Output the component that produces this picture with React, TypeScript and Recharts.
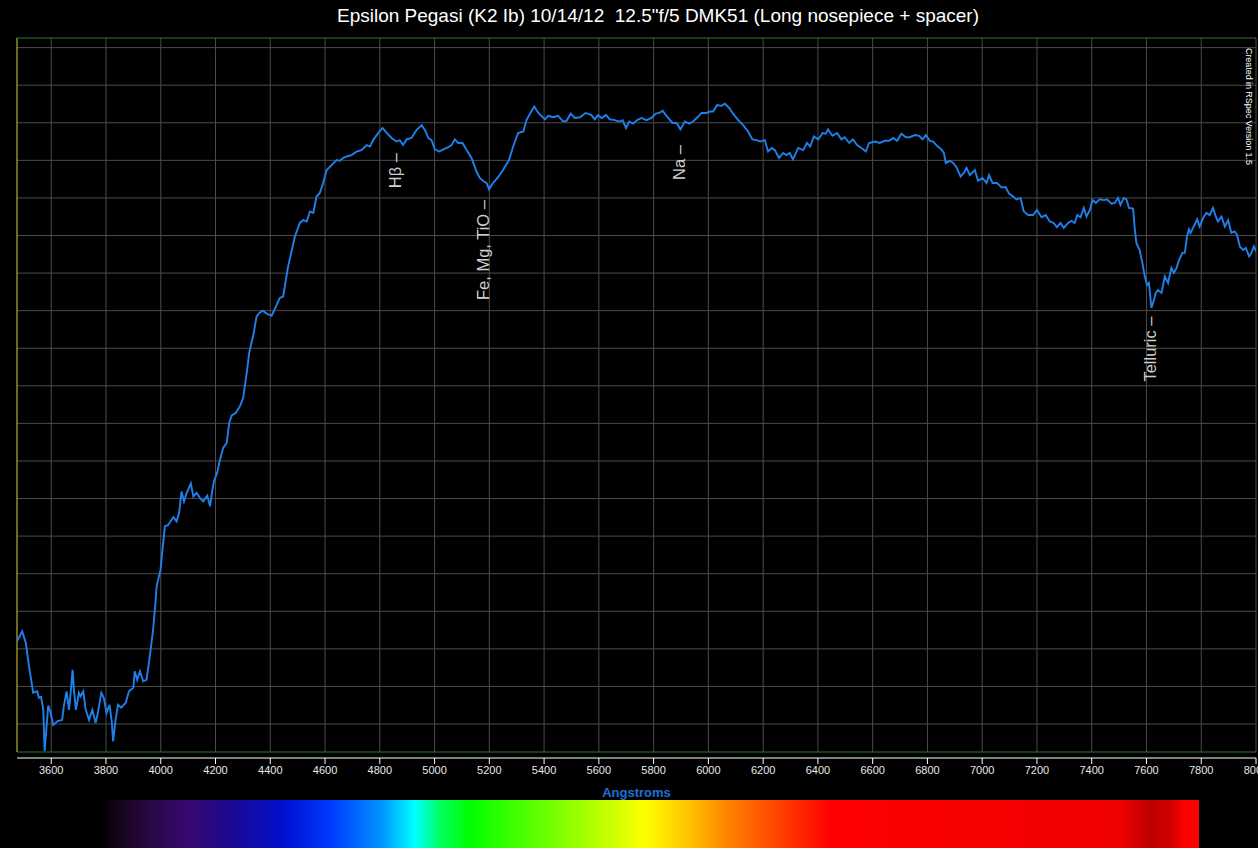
import { CartesianGrid, Line, LineChart, ReferenceDot, ReferenceLine, XAxis, YAxis } from 'recharts';

const TITLE = 'Epsilon Pegasi (K2 Ib) 10/14/12  12.5"f/5 DMK51 (Long nosepiece + spacer)';

// wavelength in Angstroms
const wavelengths = [
  3475, 3494, 3507, 3519, 3534, 3549, 3555, 3563, 3571, 3576, 3582, 3589, 3598, 3607, 3622, 3640, 3646, 3656, 3665, 3673,
  3678, 3683, 3690, 3701, 3707, 3717, 3726, 3738, 3750, 3762, 3768, 3783, 3792, 3802, 3813, 3821, 3826, 3835, 3844, 3856,
  3872, 3884, 3900, 3905, 3914, 3924, 3936, 3948, 3960, 3972, 3980, 3985, 3999, 4015, 4027, 4046, 4058, 4067, 4076, 4085,
  4095, 4110, 4119, 4131, 4143, 4155, 4170, 4180, 4187, 4194, 4206, 4216, 4228, 4241, 4250, 4259, 4274, 4289, 4301, 4307,
  4314, 4323, 4338, 4350, 4360, 4372, 4387, 4405, 4423, 4435, 4447, 4453, 4465, 4490, 4508, 4520, 4533, 4545, 4557, 4569,
  4581, 4593, 4606, 4624, 4642, 4654, 4666, 4679, 4697, 4715, 4733, 4752, 4764, 4776, 4794, 4810, 4825, 4843, 4861, 4873,
  4885, 4898, 4916, 4934, 4953, 4965, 4977, 4989, 5001, 5017, 5032, 5050, 5062, 5074, 5086, 5102, 5117, 5135, 5153, 5165,
  5180, 5190, 5199, 5214, 5232, 5250, 5272, 5287, 5305, 5324, 5336, 5350, 5364, 5379, 5403, 5415, 5433, 5451, 5470, 5482,
  5497, 5512, 5531, 5552, 5573, 5585, 5597, 5610, 5626, 5640, 5658, 5674, 5687, 5699, 5711, 5725, 5740, 5756, 5774, 5792,
  5808, 5820, 5833, 5847, 5869, 5884, 5898, 5914, 5930, 5944, 5963, 5975, 5993, 6005, 6017, 6032, 6048, 6060, 6076, 6090,
  6109, 6127, 6145, 6161, 6176, 6190, 6206, 6218, 6231, 6243, 6258, 6273, 6285, 6297, 6309, 6328, 6346, 6360, 6372, 6385,
  6401, 6417, 6429, 6437, 6453, 6470, 6486, 6498, 6514, 6528, 6543, 6559, 6575, 6587, 6608, 6626, 6644, 6660, 6675, 6689,
  6705, 6721, 6736, 6754, 6770, 6782, 6794, 6809, 6821, 6835, 6851, 6860, 6867, 6882, 6894, 6906, 6921, 6933, 6943, 6955,
  6973, 6985, 7001, 7016, 7025, 7038, 7054, 7070, 7086, 7098, 7113, 7125, 7140, 7152, 7168, 7186, 7200, 7217, 7232, 7247,
  7261, 7273, 7286, 7298, 7314, 7326, 7338, 7347, 7359, 7371, 7381, 7393, 7403, 7415, 7429, 7444, 7456, 7472, 7484, 7496,
  7505, 7517, 7527, 7536, 7551, 7557, 7563, 7575, 7585, 7594, 7602, 7609, 7618, 7627, 7634, 7642, 7655, 7667, 7679, 7691,
  7700, 7710, 7719, 7731, 7740, 7748, 7755, 7761, 7770, 7785, 7794, 7807, 7819, 7831, 7843, 7853, 7861, 7874, 7886, 7898,
  7910, 7922, 7931, 7941, 7953, 7963, 7975, 7983, 7992, 8000,
];

// relative intensity (0-100)
const intensity = [
  15.5, 16.9, 15.3, 12.0, 8.3, 8.5, 7.6, 7.7, 5.9, 0.1, 3.1, 6.5, 5.5, 3.8, 4.3, 4.5, 6.4, 8.5, 5.9, 9.2,
  11.5, 8.7, 5.9, 8.3, 7.8, 8.5, 5.9, 4.5, 5.9, 4.1, 5.0, 8.3, 7.6, 5.5, 6.6, 4.3, 1.5, 4.5, 6.6, 6.2,
  6.9, 8.5, 9.0, 11.3, 10.1, 11.3, 9.9, 10.1, 13.4, 17.1, 20.6, 23.2, 25.5, 31.6, 31.8, 32.9, 32.3, 33.5, 36.5, 35.1,
  36.3, 37.6, 35.8, 36.3, 35.6, 35.1, 35.9, 34.4, 36.3, 37.9, 39.1, 40.9, 42.6, 43.3, 46.1, 47.1, 47.5, 48.4, 49.6, 51.2,
  53.1, 55.9, 58.4, 61.0, 61.5, 61.8, 61.4, 61.1, 62.6, 63.6, 63.8, 65.2, 68.0, 72.2, 74.1, 74.5, 74.3, 75.7, 75.5, 77.8,
  78.3, 79.7, 81.5, 82.2, 82.9, 82.8, 83.2, 83.4, 83.6, 84.1, 84.3, 85.0, 84.8, 85.7, 86.7, 87.4, 86.7, 86.0, 85.5, 85.7,
  85.0, 85.8, 86.0, 87.1, 87.8, 87.1, 86.0, 85.7, 84.4, 84.1, 84.4, 84.7, 85.0, 85.8, 85.3, 85.3, 84.3, 83.2, 81.3, 80.4,
  79.9, 79.7, 78.8, 79.7, 80.5, 81.5, 82.9, 84.8, 86.7, 86.9, 88.5, 89.5, 90.4, 89.5, 88.6, 89.1, 88.9, 89.1, 88.3, 88.4,
  89.4, 88.8, 88.9, 89.5, 89.2, 88.6, 89.2, 88.8, 89.2, 88.6, 88.5, 88.3, 88.5, 87.4, 88.3, 88.0, 88.5, 88.8, 88.5, 88.8,
  89.4, 89.5, 89.8, 89.1, 88.1, 88.1, 87.2, 88.3, 88.0, 88.3, 89.0, 89.5, 89.5, 89.7, 89.7, 90.6, 90.5, 90.8, 90.2, 89.4,
  88.5, 87.8, 86.9, 85.8, 85.7, 85.5, 85.7, 84.1, 84.6, 84.3, 83.2, 83.9, 83.6, 83.9, 83.0, 84.6, 84.3, 85.3, 84.8, 86.2,
  85.8, 86.7, 86.6, 87.2, 86.3, 86.7, 85.8, 86.1, 85.3, 85.8, 85.0, 84.6, 84.1, 85.3, 85.5, 85.3, 85.6, 85.6, 86.0, 85.6,
  86.6, 86.1, 86.1, 86.4, 86.3, 85.8, 86.4, 85.6, 85.5, 84.9, 84.4, 83.9, 82.5, 82.8, 82.5, 81.9, 80.6, 81.1, 81.8, 80.8,
  81.5, 80.0, 80.4, 79.7, 80.8, 79.7, 79.7, 79.1, 79.1, 78.2, 77.8, 77.4, 77.6, 75.7, 75.2, 75.2, 75.9, 74.9, 75.2, 74.3,
  74.1, 73.5, 74.1, 73.4, 74.1, 74.4, 74.1, 75.2, 74.9, 76.2, 75.0, 75.9, 77.3, 76.9, 77.4, 77.3, 77.4, 76.8, 76.9, 77.6,
  76.6, 77.6, 77.4, 76.2, 76.1, 73.4, 71.3, 70.3, 68.5, 66.6, 65.4, 65.7, 62.2, 63.3, 64.3, 64.7, 64.3, 66.6, 65.7, 67.8,
  67.1, 67.8, 68.9, 69.9, 69.9, 72.2, 73.2, 72.7, 73.4, 74.6, 73.6, 74.8, 75.5, 75.2, 76.2, 75.0, 74.3, 75.0, 73.6, 74.5,
  72.7, 72.9, 72.4, 70.8, 70.3, 70.6, 69.4, 69.9, 70.8, 70.1,
];

const xTicks = [
  3600, 3800, 4000, 4200, 4400, 4600, 4800, 5000, 5200, 5400, 5600, 5800, 6000,
  6200, 6400, 6600, 6800, 7000, 7200, 7400, 7600, 7800, 8000,
];

// line identifications: label, wavelength, intensity where the label ends
const lineLabels = ['Hβ –', 'Fe, Mg, TiO –', 'Na –', 'Telluric –'];
const lineWavelengths = [4855, 5176, 5892, 7612];
const lineLevels = [83.9, 77.3, 85.0, 61.0];

// colour strip under the axis (offset %, colour)
const stripStops: Array<[number, string]> = [
  [0, '#0a000a'], [1.6, '#1a0520'], [4.2, '#2a0848'], [7.6, '#380872'], [11.3, '#1c0890'],
  [16.3, '#0010d0'], [20.4, '#0038ff'], [25, '#0090ff'], [28.2, '#00ffff'], [30.5, '#00ff60'],
  [33.2, '#00ff00'], [41.5, '#80ff00'], [49.3, '#ffff00'], [53.4, '#ffc000'], [57, '#ff8000'],
  [61.6, '#ff4000'], [66.2, '#ff0000'], [92.7, '#f00000'], [95.5, '#c00000'], [97.3, '#d00000'],
  [98.7, '#ff0000'], [100, '#ff0000'],
];

const data = wavelengths.map((w, i) => ({ w, v: intensity[i] }));
const gridY = Array.from({ length: 19 }, (_, k) => 3.92 + k * 5.263);

const FONT = '"Liberation Sans", Arial, sans-serif';

export default function App() {
  return (
    <div style={{ position: 'absolute', left: 0, top: 0, width: 1258, height: 848, background: '#000', overflow: 'hidden', fontFamily: FONT }}>
      <div style={{ position: 'absolute', top: 5, left: 0, width: 1316, textAlign: 'center', color: '#fff', fontSize: 19, whiteSpace: 'pre' }}>
        {TITLE}
      </div>
      <div
        style={{
          position: 'absolute', left: 107, top: 800, width: 1092, height: 48,
          background: `linear-gradient(to right, ${stripStops.map(([o, c]) => `${c} ${o}%`).join(', ')})`,
        }}
      />
      <div style={{ position: 'absolute', left: 0, top: 0 }}>
        <LineChart width={1258} height={848} data={data} margin={{ top: 38, right: 2, bottom: 0, left: 17 }}>
          <CartesianGrid horizontal vertical={false} horizontalValues={gridY} stroke="#4b4b4b" strokeWidth={1} />
          <XAxis
            dataKey="w"
            type="number"
            domain={[3475, 8000]}
            ticks={xTicks}
            interval={0}
            allowDataOverflow
            height={90}
            tickSize={6}
            axisLine={{ stroke: '#fff' }}
            tickLine={{ stroke: '#fff' }}
            tick={{ fill: '#e8e8e8', fontSize: 11, fontFamily: FONT }}
            label={{ value: 'Angstroms', position: 'insideBottom', offset: 51, fill: '#1f6fd6', fontSize: 13, fontWeight: 'bold', fontFamily: FONT }}
          />
          <YAxis hide type="number" domain={[-0.84, 100]} ticks={gridY} allowDataOverflow />
          {xTicks.map(t => (
            <ReferenceLine key={t} segment={[{ x: t, y: 0 }, { x: t, y: 100 }]} stroke="#4b4b4b" strokeWidth={1} />
          ))}
          <ReferenceLine y={100} stroke="#2f7a2f" strokeWidth={1} />
          <ReferenceLine y={0} stroke="#2f7a2f" strokeWidth={1} />
          <ReferenceLine segment={[{ x: 3475, y: 0 }, { x: 3475, y: 100 }]} stroke="#d8d040" strokeWidth={1} />
          <Line
            type="linear"
            dataKey="v"
            stroke="#1f80ea"
            strokeWidth={1.9}
            dot={false}
            activeDot={false}
            isAnimationActive={false}
          />
          {lineLabels.map((label, i) => (
            <ReferenceDot
              key={label}
              x={lineWavelengths[i]}
              y={lineLevels[i]}
              r={0}
              shape={(p: any) => (
                <text
                  x={p.cx}
                  y={p.cy}
                  transform={`rotate(-90 ${p.cx} ${p.cy})`}
                  textAnchor="end"
                  dominantBaseline="central"
                  fill="#cfcfcf"
                  fontSize={16.5}
                  fontFamily={FONT}
                >
                  {label}
                </text>
              )}
            />
          ))}
          <ReferenceDot
            x={7973}
            y={98.6}
            r={0}
            shape={(p: any) => (
              <text
                x={p.cx}
                y={p.cy}
                transform={`rotate(90 ${p.cx} ${p.cy})`}
                textAnchor="start"
                dominantBaseline="central"
                fill="#fff"
                fontSize={9}
                fontFamily={FONT}
                textLength={117}
              >
                Created in RSpec Version 1.5
              </text>
            )}
          />
        </LineChart>
      </div>
    </div>
  );
}
